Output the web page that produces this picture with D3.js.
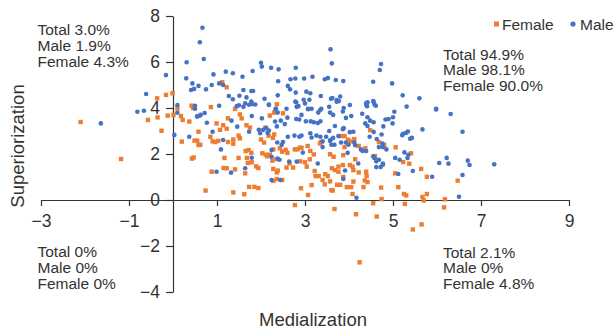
<!DOCTYPE html>
<html>
<head>
<meta charset="utf-8">
<script src="https://cdn.jsdelivr.net/npm/d3@7"></script>
<style>
  html, body { margin: 0; padding: 0; background: #fff; }
  svg text { font-family: "Liberation Sans", Arial, Helvetica, sans-serif; fill: #333; }
</style>
</head>
<body>
<div id="chart"></div>
<script>
// tick values for both axes
const xTicks = [-3, -1, 1, 3, 5, 7, 9];
const yTicks = [-4, -2, 0, 2, 4, 6, 8];

// [medialization, superiorization]
const male = [
  [0.67,7.49],[0.61,6.86],[0.70,6.13],[0.31,5.99],[-0.16,5.43],[0.30,5.29],[0.44,5.07],[0.58,4.96],[0.41,4.78],[0.48,4.83],
  [-0.61,4.61],[0.10,4.13],[0.50,3.97],[0.10,3.80],[0.55,3.64],[0.60,3.66],[-1.64,3.33],[-0.81,3.84],[-0.66,3.88],[0.03,2.83],[0.37,2.75],
  [0.92,5.46],[1.20,5.58],[1.36,5.51],[1.58,5.36],[1.81,5.61],[2.00,5.97],[2.02,5.80],[2.23,5.75],[2.40,5.68],[2.79,5.75],
  [3.17,5.36],[2.98,5.28],[2.78,5.28],[2.67,5.25],[2.39,5.16],[2.61,4.96],[2.66,4.81],[2.79,4.67],[3.03,4.71],[3.12,4.64],
  [3.45,5.25],[3.52,5.30],[3.58,6.55],[3.61,5.94],[3.36,4.52],[3.59,4.40],[2.97,4.36],[3.10,4.36],[2.80,4.25],
  [0.75,4.81],[0.88,5.00],[1.05,5.07],[1.14,5.00],[1.60,4.78],[1.78,4.74],[1.82,4.74],[1.27,4.52],[1.36,4.38],[1.51,4.53],
  [1.67,4.46],[2.08,4.40],[2.38,4.55],[2.18,4.13],[1.80,4.17],[1.87,4.15],[1.50,4.12],[1.60,4.05],[1.45,4.08],[1.05,4.10],
  [2.34,3.97],[2.58,3.97],[2.81,4.05],[3.07,3.97],[3.37,3.97],[0.50,4.10],
  [3.70,5.22],[3.87,5.17],[4.73,5.91],[4.70,5.65],[4.55,5.14],[4.98,5.07],[5.22,4.55],[5.60,4.42],[5.31,4.06],[5.98,3.97],
  [3.62,4.43],[3.72,4.35],[3.77,4.30],[3.80,4.50],[4.02,4.13],[3.88,4.00],[4.40,4.12],[4.42,4.25],[4.55,4.30],[4.58,4.15],
  [1.64,4.20],[1.78,4.28],[1.73,4.14],[2.18,4.15],[2.33,3.95],[2.38,3.80],[2.78,4.28],[2.85,4.08],[3.00,4.20],[3.07,3.95],
  [3.15,3.97],[3.30,3.80],[3.34,3.90],[3.55,4.05],[3.57,3.80],
  [0.55,3.63],[0.63,3.70],[0.72,3.78],[0.77,3.36],[0.90,2.97],[1.33,3.45],[1.46,3.19],[1.73,2.97],[1.79,3.65],[2.02,3.55],
  [1.95,3.05],[1.98,2.90],[2.05,3.05],[2.12,3.13],[2.15,2.92],[2.18,3.02],[2.32,3.41],[2.36,3.20],[2.45,3.45],[2.54,3.30],
  [2.60,3.58],[2.80,3.52],[2.92,3.70],[2.87,3.50],[3.02,3.42],[3.13,3.42],[3.20,3.38],[3.29,3.35],[3.35,3.42],
  [3.12,2.90],[3.15,2.72],[3.26,2.80],[3.35,2.75],[2.61,2.75],[2.76,2.80],[2.87,2.75],[2.92,2.80],[2.37,2.50],[2.47,2.40],
  [2.50,2.52],[2.24,2.17],[1.14,2.61],[1.09,2.20],[1.79,1.84],[2.24,1.88],[2.38,1.80],[2.42,1.75],[2.64,1.67],[2.81,1.67],
  [2.95,2.06],[3.29,1.59],[3.40,2.30],[3.40,2.55],[3.48,2.75],[3.55,3.00],[3.58,2.62],[1.64,1.38],[1.32,1.19],[0.99,1.23],
  [2.24,0.87],[2.44,0.87],
  [3.72,4.27],[4.39,4.20],[4.41,4.08],[4.56,4.27],[4.61,4.10],[5.98,3.94],[6.31,3.74],[5.03,3.84],[3.64,3.70],[3.86,3.85],
  [3.93,3.57],[4.05,3.65],[4.30,3.75],[4.42,3.60],[4.37,3.33],[4.48,3.45],[4.56,3.38],[4.42,3.22],[4.83,3.50],[4.90,3.52],
  [5.00,3.60],[4.99,3.33],[4.78,3.20],[3.68,3.22],[3.86,3.08],[3.88,3.13],[4.02,2.95],[4.10,2.97],[5.34,2.98],[5.30,2.92],
  [5.23,2.88],[5.21,2.82],[5.43,2.70],[5.39,2.66],[5.67,3.07],[6.58,2.97],[4.56,2.96],[4.47,2.75],[4.63,2.65],[4.74,2.85],
  [4.76,2.45],[4.68,2.30],[4.77,2.30],[4.85,2.20],[3.57,2.57],[3.64,2.70],[3.76,2.78],[3.60,2.40],[3.67,2.40],[3.82,2.50],
  [3.93,2.50],[3.97,2.05],[3.99,2.40],[4.12,2.50],[4.14,2.38],[4.27,2.20],[4.31,2.13],[4.39,2.13],[4.55,1.90],[4.58,1.82],
  [4.62,1.68],[4.68,1.75],[4.77,1.53],[5.05,1.83],[5.15,1.75],[5.26,2.07],[5.33,1.83],[5.35,1.97],[4.21,1.59],[3.91,1.28],
  [4.62,1.43],[4.72,1.43],[4.77,1.58],[6.05,1.61],[6.22,1.83],[6.26,1.58],[6.70,1.71],[6.74,1.52],[7.30,1.55],[5.45,1.26],
  [5.12,1.13],[5.89,1.01],[6.58,1.09],[3.87,0.91],[4.17,0.10],[6.50,0.14]
];

const female = [
  [-2.10,3.39],[-1.18,1.78],[-0.01,4.64],[-0.16,4.57],[-0.36,4.42],[0.46,4.00],[-0.57,3.48],[-0.35,3.59],[-0.26,3.01],[-0.12,3.67],
  [0.01,3.70],[0.10,3.99],[0.18,3.65],[0.22,3.48],[0.37,3.41],[0.42,4.10],[0.20,2.54],[0.49,2.58],[0.55,2.58],[0.58,2.97],
  [0.58,2.39],[0.43,1.80],[0.47,1.85],[1.12,5.12],[1.22,4.90],[0.86,4.04],[1.41,3.96],
  [2.36,4.16],[2.20,3.67],[2.30,3.80],[2.50,3.77],[0.99,3.33],[1.14,3.25],[1.25,3.55],[1.22,3.10],[1.07,3.05],
  [1.52,3.72],[1.56,3.55],[1.67,3.25],[1.75,3.15],[0.62,2.40],[0.85,2.75],[0.90,2.55],[0.96,2.52],[1.03,2.57],
  [1.25,2.52],[1.37,2.63],[1.37,2.45],[1.49,2.80],[1.52,2.68],[2.10,3.15],[2.17,2.80],[2.27,2.70],[2.30,2.85],[2.00,2.63],
  [2.07,2.50],[1.65,2.13],[1.72,2.17],[1.78,2.05],[2.03,2.03],[2.11,1.97],[2.14,1.90],[2.28,2.20],[2.43,2.25],[2.48,2.10],
  [2.56,2.18],[2.60,2.05],[2.77,2.20],[2.83,2.20],[2.88,2.27],[2.92,2.27],[3.06,2.35],[3.12,2.13],[3.20,1.98],[3.34,2.46],
  [3.37,2.52],[1.17,1.83],[1.15,1.39],[1.49,1.83],[1.68,1.83],[1.70,1.61],[1.79,1.64],[1.89,1.46],[1.94,1.39],[2.20,1.97],
  [2.26,1.71],[2.35,1.78],[2.28,1.35],[2.36,1.20],[2.38,1.28],[2.58,1.41],[2.65,1.59],[2.73,1.41],[2.89,1.68],[3.00,1.64],
  [3.04,1.45],[3.11,1.77],[3.22,1.26],[3.24,1.04],[3.31,1.04],[3.46,1.12],[3.52,1.04],[0.88,1.23],[1.22,1.38],[1.41,1.33],
  [1.64,1.16],[1.73,0.57],[1.85,0.57],[1.94,0.52],[1.62,0.25],[1.37,0.33],[0.74,0.41],[2.28,0.83],[2.36,0.91],[2.48,0.87],
  [2.91,0.51],[3.15,0.65],[3.40,0.87],[3.45,0.68],[3.60,0.43],[2.77,-0.22],
  [3.82,2.78],[3.90,2.78],[3.98,2.62],[3.90,2.30],[4.05,2.55],[4.12,2.65],[4.22,2.35],[4.37,2.25],[4.48,3.04],[4.68,2.52],
  [4.80,2.40],[5.06,2.29],[5.41,2.03],[4.59,1.91],[3.57,1.99],[3.65,1.88],[3.87,1.95],[3.86,1.52],[3.76,1.45],[3.61,1.38],
  [3.68,1.30],[3.76,1.23],[4.14,1.77],[4.02,1.52],[4.08,1.45],[4.10,1.30],[4.22,1.20],[4.39,1.23],[4.40,1.05],[4.36,0.85],
  [5.23,1.65],[5.37,1.58],[5.64,1.35],[5.77,1.01],[5.05,1.16],[5.12,0.56],[6.47,0.84],[3.87,1.00],[4.10,0.80],[3.57,0.81],
  [3.73,0.66],[3.80,0.66],[3.95,0.56],[4.05,0.56],[4.33,0.56],[4.42,0.78],[4.73,0.54],[3.63,0.41],[4.08,0.26],[4.74,0.04],
  [5.25,0.26],[5.77,0.26],[5.67,0.13],[4.55,-0.14],[5.27,-0.17],[6.18,0.03],[6.16,-0.32],
  [3.07,0.22],[3.67,-0.39],[4.16,-0.62],[4.63,-0.72],[5.30,0.20],[5.70,-0.02],[5.45,-1.28],[5.65,-1.06],[4.24,-2.71]
];

// quadrant percentages
const quadrantTopLeft = ['Total 3.0%', 'Male 1.9%', 'Female 4.3%'];
const quadrantTopRight = ['Total 94.9%', 'Male 98.1%', 'Female 90.0%'];
const quadrantBottomLeft = ['Total 0%', 'Male 0%', 'Female 0%'];
const quadrantBottomRight = ['Total 2.1%', 'Male 0%', 'Female 4.8%'];

const width = 616, height = 330;
const blue = '#4472c4', orange = '#ed7d31';

const svg = d3.select('#chart').append('svg')
  .attr('width', width)
  .attr('height', height);

const x = d3.scaleLinear().domain([-3, 9]).range([41, 569]);
const y = d3.scaleLinear().domain([-4, 8]).range([292, 16]);

// axes cross at the origin
const xAxis = svg.append('g')
  .attr('transform', `translate(0,${y(0)})`)
  .call(d3.axisBottom(x).tickValues(xTicks).tickSize(6).tickPadding(9).tickSizeOuter(0));

const yAxis = svg.append('g')
  .attr('transform', `translate(${x(0)},0)`)
  .call(d3.axisLeft(y).tickValues(yTicks).tickSize(7).tickPadding(6).tickSizeOuter(0));

[xAxis, yAxis].forEach(a => {
  a.selectAll('path, line').attr('stroke', '#333').attr('stroke-width', 1.2);
  a.selectAll('text')
    .style('font-family', '"Liberation Sans", Arial, sans-serif')
    .style('font-size', '17.5px')
    .attr('fill', '#333');
});

// Female first, Male drawn on top
svg.append('g').selectAll('rect').data(female).enter()
  .append('rect')
  .attr('x', d => x(d[0]) - 2.2)
  .attr('y', d => y(d[1]) - 2.2)
  .attr('width', 4.4)
  .attr('height', 4.4)
  .attr('fill', orange);

svg.append('g').selectAll('circle').data(male).enter()
  .append('circle')
  .attr('cx', d => x(d[0]))
  .attr('cy', d => y(d[1]))
  .attr('r', 2.3)
  .attr('fill', blue);

// axis titles
svg.append('text')
  .attr('x', 313).attr('y', 326)
  .attr('text-anchor', 'middle')
  .style('font-size', '18.5px')
  .text('Medialization');

svg.append('text')
  .attr('transform', 'translate(24,146) rotate(-90)')
  .attr('text-anchor', 'middle')
  .style('font-size', '18.5px')
  .text('Superiorization');

// quadrant notes
function note(lines, left, top) {
  const t = svg.append('text').style('font-size', '15.5px');
  t.selectAll('tspan').data(lines).enter()
    .append('tspan')
    .attr('x', left)
    .attr('y', (d, i) => top + i * 15.9)
    .text(d => d);
}
note(quadrantTopLeft, 37.5, 35);
note(quadrantTopRight, 443, 59.5);
note(quadrantBottomLeft, 37.5, 257);
note(quadrantBottomRight, 443, 257.5);

// legend
const legend = svg.append('g').style('font-size', '15.5px');
legend.append('rect').attr('x', 494).attr('y', 21.5).attr('width', 5).attr('height', 5).attr('fill', orange);
legend.append('text').attr('x', 502).attr('y', 30).text('Female');
legend.append('circle').attr('cx', 573).attr('cy', 24).attr('r', 2.6).attr('fill', blue);
legend.append('text').attr('x', 580).attr('y', 30).text('Male');
</script>
</body>
</html>
